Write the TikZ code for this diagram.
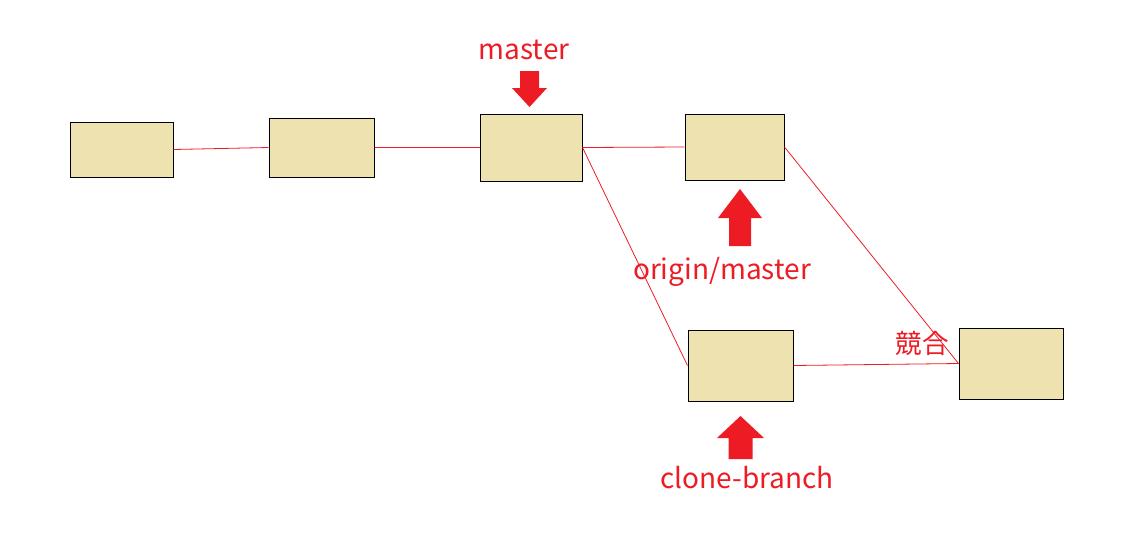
\documentclass[tikz,border=0pt]{standalone}
\usepackage{fontspec}
\setmainfont{Noto Sans CJK JP}
\definecolor{commitfill}{HTML}{EEE2B0}
\definecolor{gitred}{HTML}{ED1C24}
\tikzset{
	commit/.style={draw, fill=commitfill, inner sep=0pt, line width=1pt},
	link/.style={draw=gitred, line width=0.8pt},
	pointer/.style={fill=gitred},
	reflabel/.style={text=gitred, font=\fontsize{28}{32}\selectfont, anchor=base, inner sep=0pt}
}

\begin{document}
\begin{tikzpicture}[x=1pt, y=-1pt]
		\useasboundingbox (0,0) rectangle (1132,541);
		\node (a)[commit, minimum width=103, minimum height=55] at (121.5,149.5) {};
		\node (b)[commit, minimum width=105, minimum height=59] at (321.5,147.5) {};
		\node (c)[commit, minimum width=102, minimum height=67] at (531,147.5) {};
		\node (d)[commit, minimum width=99, minimum height=66] at (734.5,147) {};
		\node (e)[commit, minimum width=105, minimum height=71] at (740.5,365.5) {};
		\node (f)[commit, minimum width=104, minimum height=71] at (1011,363.5) {};
		%
		\draw [link](a.east)--(b.west);
		\draw [link](b.east)--(c.west);
		\draw [link](c.east)--(d.west);
		\draw [link](c.east)--(e.west);
		\draw [link](d.east)--(f.west);
		\draw [link](e.east)--(f.west);
		%
		\coordinate (mastertip) at (529.5,107);
		\fill [pointer](mastertip)--++(-17.5,-19)--++(8,0)--++(0,-17)--++(19,0)--++(0,17)--++(8,0)--cycle;
		\node (master)[reflabel] at (524,59) {master};
		%
		\coordinate (origintip) at (740,189);
		\fill [pointer](origintip)--++(-22,29)--++(11,0)--++(0,28)--++(22,0)--++(0,-28)--++(11,0)--cycle;
		\node (origin)[reflabel] at (722,279) {origin/master};
		%
		\coordinate (clonetip) at (740.5,416);
		\fill [pointer](clonetip)--++(-23.5,22)--++(11.5,0)--++(0,21)--++(24,0)--++(0,-21)--++(11.5,0)--cycle;
		\node (clone)[reflabel] at (747,488) {clone-branch};
		%
		\node (conflict)[reflabel, font=\fontsize{26.5}{30}\selectfont] at (922,353) {競合};
	\end{tikzpicture}
\end{document}
